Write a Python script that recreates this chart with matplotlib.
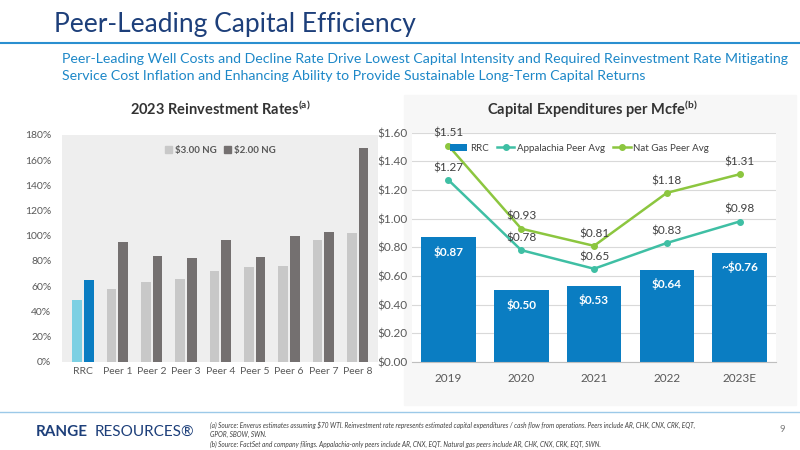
import matplotlib.pyplot as plt
import numpy as np
from matplotlib.patches import Rectangle

plt.rcParams['font.family'] = ['Lato', 'DejaVu Sans']

# left chart data
peers = ['RRC', 'Peer 1', 'Peer 2', 'Peer 3', 'Peer 4', 'Peer 5', 'Peer 6', 'Peer 7', 'Peer 8']
ng3 = [49, 58, 63, 66, 72, 75, 76, 97, 102]
ng2 = [65, 95, 84, 82, 97, 83, 100, 103, 170]

# right chart data
years = ['2019', '2020', '2021', '2022', '2023E']
rrc = [0.87, 0.50, 0.53, 0.64, 0.76]
rrc_labels = ['$0.87', '$0.50', '$0.53', '$0.64', '~$0.76']
app_avg = [1.27, 0.78, 0.65, 0.83, 0.98]
gas_avg = [1.51, 0.93, 0.81, 1.18, 1.31]

BLUE = '#0a7dc2'
TEAL = '#3fbfa4'
GREEN = '#8cc63f'
SUB = '#1e88c8'

fig = plt.figure(figsize=(8, 4.5), dpi=100)
fig.patch.set_facecolor('white')

fig.text(0.068, 0.945, 'Peer-Leading Capital Efficiency', fontsize=19, color='#1d3f7a', va='center')
fig.add_artist(plt.Line2D([0, 1], [0.905, 0.905], color='#2a8fd0', lw=1.5))
fig.text(0.077, 0.868, 'Peer-Leading Well Costs and Decline Rate Drive Lowest Capital Intensity and Required Reinvestment Rate Mitigating',
         fontsize=10.2, color=SUB, va='center')
fig.text(0.077, 0.832, 'Service Cost Inflation and Enhancing Ability to Provide Sustainable Long-Term Capital Returns',
         fontsize=10.2, color=SUB, va='center')

# right panel background
fig.add_artist(Rectangle((0.505, 0.1), 0.49, 0.69, transform=fig.transFigure, color='#f7f7f7', zorder=-1))

# left chart
ax1 = fig.add_axes([0.078, 0.196, 0.395, 0.504])
ax1.set_facecolor('#eeeeee')
x = np.arange(len(peers))
w = 0.28
c3 = ['#7dd0e3'] + ['#c8c8c8'] * 8
c2 = [BLUE] + ['#747070'] * 8
ax1.bar(x - 0.17, ng3, w, color=c3)
ax1.bar(x + 0.17, ng2, w, color=c2)
ax1.set_ylim(0, 180)
ax1.set_yticks(range(0, 181, 20))
ax1.set_yticklabels([f'{v}%' for v in range(0, 181, 20)])
ax1.set_xlim(-0.6, 8.6)
ax1.set_xticks(x)
ax1.set_xticklabels(peers)
ax1.tick_params(length=0, labelsize=7.5, colors='#595959')
ax1.tick_params(axis='y', pad=8)
for s in ax1.spines.values():
    s.set_visible(False)
h = [Rectangle((0, 0), 1, 1, color='#c8c8c8'), Rectangle((0, 0), 1, 1, color='#747070')]
ax1.legend(h, ['$3.00 NG', '$2.00 NG'], loc='upper center', bbox_to_anchor=(0.5, 0.99), ncol=2, frameon=False,
           handlelength=0.7, handleheight=0.7, columnspacing=0.8, handletextpad=0.3,
           prop={'weight': 'bold', 'size': 7}, labelcolor='#595959')
fig.text(0.275, 0.745, '2023 Reinvestment Rates$^{\\mathregular{(a)}}$', ha='center', fontsize=10.5, weight='bold', color='#333333')

# right chart
ax2 = fig.add_axes([0.515, 0.196, 0.455, 0.509])
ax2.set_facecolor('white')
xi = np.arange(len(years))
ax2.bar(xi, rrc, 0.75, color=BLUE, label='RRC')
ax2.plot(xi, app_avg, color=TEAL, lw=1.8, marker='o', ms=4, label='Appalachia Peer Avg')
ax2.plot(xi, gas_avg, color=GREEN, lw=1.8, marker='o', ms=4, label='Nat Gas Peer Avg')
for i, v in enumerate(rrc):
    ax2.text(i, v - 0.1, rrc_labels[i], ha='center', va='center', color='white', fontsize=8.5, weight='bold')
for i, v in enumerate(app_avg):
    ax2.text(i, v + 0.085, f'${v:.2f}', ha='center', va='center', color='#404040', fontsize=8.5)
for i, v in enumerate(gas_avg):
    ax2.text(i, v + 0.085, f'${v:.2f}', ha='center', va='center', color='#404040', fontsize=8.5)
ax2.set_ylim(0, 1.6)
ax2.set_yticks(np.arange(0, 1.61, 0.2))
ax2.set_yticklabels([f'${v:.2f}' for v in np.arange(0, 1.61, 0.2)])
ax2.set_xlim(-0.5, 4.5)
ax2.set_xticks(xi)
ax2.set_xticklabels(years)
ax2.tick_params(length=0, labelsize=8.5, colors='#595959')
ax2.tick_params(axis='x', pad=8)
ax2.grid(axis='y', color='#d9d9d9', lw=0.8)
ax2.set_axisbelow(True)
for s in ['top', 'right', 'left']:
    ax2.spines[s].set_visible(False)
ax2.spines['bottom'].set_color('#bfbfbf')
hs, ls = ax2.get_legend_handles_labels()
order = [2, 0, 1]
ax2.legend([hs[i] for i in order], [ls[i] for i in order], loc='upper left', bbox_to_anchor=(0.08, 0.99), ncol=3,
           frameon=False, fontsize=7, handlelength=1.8, columnspacing=0.8, handletextpad=0.3, labelcolor='#404040')
fig.text(0.74, 0.745, 'Capital Expenditures per Mcfe$^{\\mathregular{(b)}}$', ha='center', fontsize=10.5, weight='bold', color='#333333')

# footer
fig.add_artist(plt.Line2D([0, 1], [0.085, 0.085], color='#9cc9e8', lw=1))
fig.text(0.045, 0.04, 'RANGE', fontsize=11, weight='bold', color='#1d3f7a', va='center')
fig.text(0.118, 0.04, 'RESOURCES®', fontsize=11, color='#1d3f7a', va='center')
fig.text(0.263, 0.055, '(a) Source: Enverus estimates assuming $70 WTI. Reinvestment rate represents estimated capital expenditures / cash flow from operations. Peers include AR, CHK, CNX, CRK, EQT,',
         fontsize=4.7, style='italic', color='#404040', va='center')
fig.text(0.263, 0.034, 'GPOR, SBOW, SWN.', fontsize=4.7, style='italic', color='#404040', va='center')
fig.text(0.263, 0.013, '(b) Source: FactSet and company filings. Appalachia-only peers include AR, CNX, EQT. Natural gas peers include AR, CHK, CNX, CRK, EQT, SWN.',
         fontsize=4.7, style='italic', color='#404040', va='center')
fig.text(0.975, 0.045, '9', fontsize=7, color='#808080', va='center')

fig.savefig('out.png', dpi=100)
